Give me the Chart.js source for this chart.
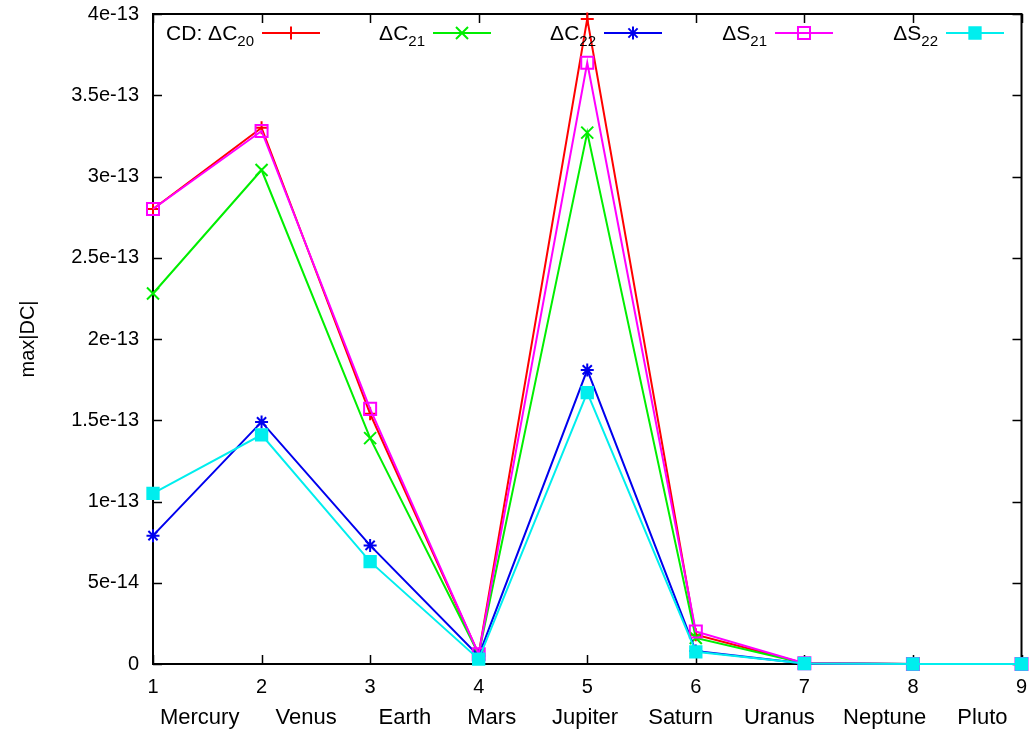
<!DOCTYPE html>
<html>
<head>
<meta charset="utf-8">
<script src="https://cdn.jsdelivr.net/npm/chart.js@4.4.1/dist/chart.umd.min.js"></script>
<style>
  html, body { margin: 0; padding: 0; background: #fff; }
</style>
</head>
<body>
<canvas id="chart" width="1032" height="731"></canvas>
<script>
// x positions and planet names
const xValues = [1, 2, 3, 4, 5, 6, 7, 8, 9];
const planets = ['Mercury', 'Venus', 'Earth', 'Mars', 'Jupiter', 'Saturn', 'Uranus', 'Neptune', 'Pluto'];

// max|DC| per planet
const dC20 = [2.80e-13, 3.30e-13, 1.54e-13, 0.06e-13, 3.97e-13, 0.18e-13, 0.005e-13, 0, 0];
const dC21 = [2.28e-13, 3.04e-13, 1.39e-13, 0.06e-13, 3.27e-13, 0.16e-13, 0.005e-13, 0, 0];
const dC22 = [0.79e-13, 1.49e-13, 0.73e-13, 0.05e-13, 1.81e-13, 0.08e-13, 0.003e-13, 0, 0];
const dS21 = [2.80e-13, 3.28e-13, 1.57e-13, 0.06e-13, 3.70e-13, 0.20e-13, 0.005e-13, 0, 0];
const dS22 = [1.05e-13, 1.41e-13, 0.63e-13, 0.03e-13, 1.67e-13, 0.075e-13, 0.003e-13, 0, 0];

// legend labels: main text + subscript
const labelMain = ['CD: \u0394C', '\u0394C', '\u0394C', '\u0394S', '\u0394S'];
const labelSub = ['20', '21', '22', '21', '22'];

const yTicks = [0, 5e-14, 1e-13, 1.5e-13, 2e-13, 2.5e-13, 3e-13, 3.5e-13, 4e-13];

const FONT = "'Liberation Sans', Arial, Helvetica, sans-serif";

const series = [
    { data: dC20, color: '#ff0000', style: 'cross', radius: 6.5 },
    { data: dC21, color: '#00ee00', style: 'crossRot', radius: 8.5 },
    { data: dC22, color: '#0000ee', style: 'star', radius: 6.5 },
    { data: dS21, color: '#ff00ff', style: 'rect', radius: 8.5, fill: 'rgba(0,0,0,0)' },
    { data: dS22, color: '#00eeee', style: 'rect', radius: 8, fill: '#00eeee' }
];

// frame with inward ticks on all four sides (gnuplot style)
const framePlugin = {
    id: 'frame',
    beforeDatasetsDraw(chart) {
        const { ctx, chartArea: a, scales } = chart;
        ctx.save();
        ctx.strokeStyle = '#000';
        ctx.lineWidth = 1.5;
        const tl = 9;
        ctx.beginPath();
        scales.x.ticks.forEach(t => {
            const px = Math.round(scales.x.getPixelForValue(t.value)) + 0.5;
            ctx.moveTo(px, a.bottom); ctx.lineTo(px, a.bottom - tl);
            ctx.moveTo(px, a.top); ctx.lineTo(px, a.top + tl);
        });
        scales.y.ticks.forEach(t => {
            const py = Math.round(scales.y.getPixelForValue(t.value)) + 0.5;
            ctx.moveTo(a.left, py); ctx.lineTo(a.left + tl, py);
            ctx.moveTo(a.right, py); ctx.lineTo(a.right - tl, py);
        });
        ctx.stroke();
        ctx.lineWidth = 2;
        ctx.strokeRect(a.left, a.top, a.right - a.left, a.bottom - a.top);
        ctx.restore();
    }
};

// planet names under the numeric x ticks
const nameAt = [1.43, 2.41, 3.32, 4.12, 4.98, 5.86, 6.77, 7.74, 8.64];
const namesPlugin = {
    id: 'names',
    afterDraw(chart) {
        const { ctx, scales } = chart;
        ctx.save();
        ctx.fillStyle = '#000';
        ctx.font = '22px ' + FONT;
        ctx.textAlign = 'center';
        ctx.textBaseline = 'alphabetic';
        planets.forEach((p, i) => {
            ctx.fillText(p, scales.x.getPixelForValue(nameAt[i]), 724);
        });
        ctx.restore();
    }
};

// gnuplot-like key in one row across the top
const keyPlugin = {
    id: 'key',
    afterDatasetsDraw(chart) {
        const { ctx, chartArea: a } = chart;
        ctx.save();
        const y = a.top + 19;
        series.forEach((s, i) => {
            const x0 = a.left + 109 + i * 171;
            const x1 = x0 + 58;
            ctx.font = '15px ' + FONT;
            const subW = ctx.measureText(labelSub[i]).width;
            ctx.fillStyle = '#000';
            ctx.textAlign = 'right';
            ctx.textBaseline = 'alphabetic';
            ctx.fillText(labelSub[i], x0 - 8, y + 13);
            ctx.font = '21px ' + FONT;
            ctx.fillText(labelMain[i], x0 - 8 - subW, y + 7);
            ctx.strokeStyle = s.color;
            ctx.lineWidth = 2;
            ctx.beginPath();
            ctx.moveTo(x0, y); ctx.lineTo(x1, y);
            ctx.stroke();
            ctx.fillStyle = s.fill || s.color;
            Chart.helpers.drawPoint(ctx, {
                pointStyle: s.style, radius: s.radius, rotation: 0, borderWidth: 2
            }, (x0 + x1) / 2, y);
        });
        ctx.restore();
    }
};

new Chart(document.getElementById('chart'), {
    type: 'line',
    data: {
        datasets: series.map((s, i) => ({
            label: labelMain[i] + labelSub[i],
            data: xValues.map((x, j) => ({ x: x, y: s.data[j] })),
            borderColor: s.color,
            backgroundColor: s.fill || s.color,
            pointBorderColor: s.color,
            pointBackgroundColor: s.fill || s.color,
            pointStyle: s.style,
            pointRadius: s.radius,
            pointBorderWidth: 2,
            borderWidth: 2,
            tension: 0,
            clip: false,
            order: series.length - i
        }))
    },
    plugins: [framePlugin, keyPlugin, namesPlugin],
    options: {
        responsive: false,
        animation: false,
        layout: { padding: { top: 14, right: 8, left: 0, bottom: 0 } },
        plugins: {
            legend: { display: false },
            tooltip: { enabled: false }
        },
        scales: {
            x: {
                type: 'linear',
                min: 1,
                max: 9,
                grid: { display: false, drawTicks: false },
                border: { display: false },
                ticks: {
                    stepSize: 1,
                    padding: 11,
                    color: '#000',
                    font: { family: FONT, size: 20 }
                },
                afterFit(axis) {
                    axis.height = 67;
                    axis.paddingLeft = 0;
                    axis.paddingRight = 0;
                }
            },
            y: {
                min: 0,
                max: 4e-13,
                grid: { display: false, drawTicks: false },
                border: { display: false },
                afterBuildTicks(axis) { axis.ticks = yTicks.map(v => ({ value: v })); },
                ticks: {
                    padding: 14,
                    color: '#000',
                    font: { family: FONT, size: 20 },
                    callback: v => v === 0 ? '0' : Number(v.toPrecision(3)).toExponential()
                },
                title: {
                    display: true,
                    text: 'max|DC|',
                    color: '#000',
                    padding: { top: 16, bottom: 0 },
                    font: { family: FONT, size: 20 }
                },
                afterFit(axis) {
                    axis.width = 153;
                    axis.paddingTop = 0;
                    axis.paddingBottom = 0;
                }
            }
        }
    }
});
</script>
</body>
</html>
